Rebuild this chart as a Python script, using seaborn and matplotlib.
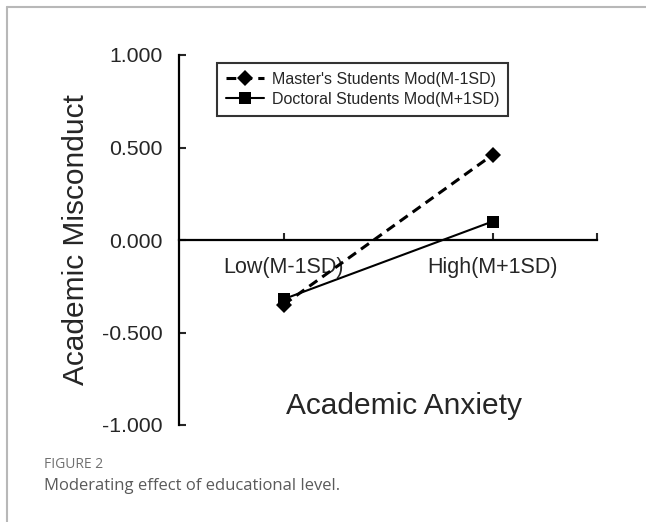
import matplotlib

matplotlib.use("Agg")
import matplotlib.pyplot as plt
import numpy as np
import seaborn as sns
from matplotlib.lines import Line2D

# data
anxiety_levels = ["Low(M-1SD)", "High(M+1SD)"]
master_vals = [-0.35, 0.46]
doctoral_vals = [-0.32, 0.10]
master_label = "Master's Students Mod(M-1SD)"
doctoral_label = "Doctoral Students Mod(M+1SD)"
y_ticks = [-1.0, -0.5, 0.0, 0.5, 1.0]
y_tick_labels = [f"{v:.3f}" for v in y_ticks]


def main():
    sns.set_style("white")
    plt.rcParams["font.family"] = ["Liberation Sans", "DejaVu Sans"]

    fig = plt.figure(figsize=(6.46, 5.22), dpi=100)
    ax = fig.add_axes([179 / 646, 1 - 425 / 522, 418 / 646, 370 / 522])

    x_pos = np.arange(len(anxiety_levels))

    sns.lineplot(
        x=x_pos,
        y=master_vals,
        ax=ax,
        color="black",
        linewidth=2.2,
        linestyle=(0, (3.2, 2.0)),
        marker="D",
        markersize=8.5,
        markeredgewidth=0,
        label=master_label,
        legend=False,
    )
    sns.lineplot(
        x=x_pos,
        y=doctoral_vals,
        ax=ax,
        color="black",
        linewidth=1.5,
        marker="s",
        markersize=8,
        markeredgewidth=0,
        label=doctoral_label,
        legend=False,
    )

    ax.set_xlim(-0.5, 1.5)
    ax.set_ylim(-1.0, 1.0)

    # axes styling: left spine + horizontal axis through zero
    for side in ["top", "right"]:
        ax.spines[side].set_visible(False)
    ax.spines["left"].set_linewidth(1.6)
    ax.spines["bottom"].set_position(("data", 0))
    ax.spines["bottom"].set_linewidth(1.6)
    for sp in ax.spines.values():
        sp.set_color("black")

    ax.set_yticks(y_ticks)
    ax.set_yticklabels(y_tick_labels)
    ax.set_xticks(list(x_pos) + [1.5])
    ax.set_xticklabels(anxiety_levels + [""])
    ax.tick_params(axis="y", direction="in", length=5, width=1.5, pad=12,
                   labelsize=15.3, left=True)
    ax.tick_params(axis="x", direction="in", length=5, width=1.5, pad=12,
                   labelsize=15.5, bottom=True)

    ax.set_ylabel("Academic Misconduct", fontsize=21.5, va="center")
    ax.yaxis.set_label_coords(-0.246, 0.5)
    ax.set_xlabel("Academic Anxiety", fontsize=21.5, va="top")
    ax.xaxis.set_label_coords(0.538, 0.09)

    leg = ax.legend(
        loc="upper left",
        bbox_to_anchor=(0.091, 0.978),
        borderaxespad=0,
        fontsize=11.5,
        frameon=True,
        fancybox=False,
        handlelength=2.4,
        handletextpad=0.5,
        labelspacing=0.3,
        borderpad=0.55,
    )
    leg.get_frame().set_edgecolor("black")
    leg.get_frame().set_linewidth(1.5)

    # page frame and caption
    fig.add_artist(Line2D([7 / 646, 1], [1 - 7 / 522] * 2, color="#b8b8b8",
                          lw=1.5, transform=fig.transFigure))
    fig.add_artist(Line2D([7 / 646] * 2, [0, 1 - 7 / 522], color="#b8b8b8",
                          lw=1.5, transform=fig.transFigure))
    fig.text(44 / 646, 1 - 464 / 522, "FIGURE 2", fontsize=10, color="#707070",
             va="center", family=["Open Sans", "DejaVu Sans"])
    fig.text(44 / 646, 1 - 486 / 522, "Moderating effect of educational level.",
             fontsize=12, color="#5a5a5a", va="center",
             family=["Open Sans", "DejaVu Sans"])

    fig.savefig("out.png", dpi=100)


if __name__ == "__main__":
    main()
